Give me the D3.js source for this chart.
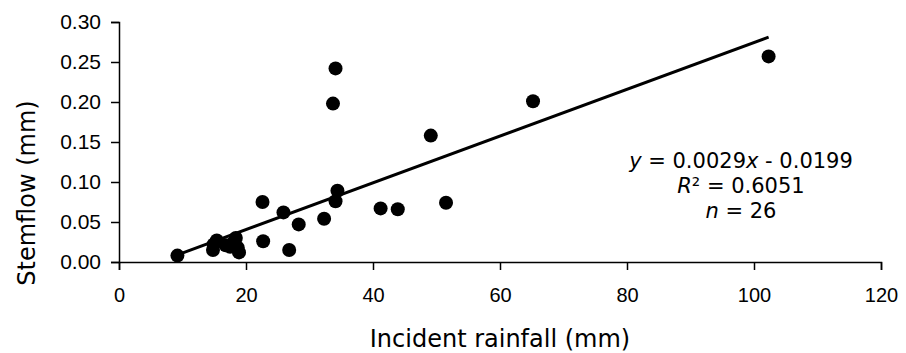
<!DOCTYPE html>
<html>
<head>
<meta charset="utf-8">
<script src="https://cdn.jsdelivr.net/npm/d3@7"></script>
<style>
  body { margin: 0; background: #fff; }
  svg { display: block; font-family: "DejaVu Sans", Verdana, sans-serif; }
  .axis path, .axis line { stroke: #000; stroke-width: 1.5; }
  .axis text { fill: #000; }
</style>
</head>
<body>
<svg id="MyGraph" width="906" height="353"></svg>
<script>
// incident rainfall (mm) and stemflow (mm), one pair per event
var rainfall = [9.2, 14.8, 14.9, 15.4, 16.8, 17.5, 18.0, 18.4, 18.7, 18.9,
                22.6, 22.7, 25.9, 26.8, 28.3, 32.3, 33.7, 34.1, 34.1, 34.4,
                41.2, 43.9, 49.1, 51.5, 65.2, 102.3];
var stemflow = [0.008, 0.015, 0.022, 0.027, 0.021, 0.019, 0.024, 0.030, 0.018, 0.012,
                0.075, 0.026, 0.062, 0.015, 0.047, 0.054, 0.198, 0.242, 0.076, 0.089,
                0.067, 0.066, 0.158, 0.074, 0.201, 0.257];
var xTicks = [0, 20, 40, 60, 80, 100, 120];
var yTicks = [0, 0.05, 0.10, 0.15, 0.20, 0.25, 0.30];

var svg = d3.select("#MyGraph");
var margin = {top: 22, right: 25, bottom: 91, left: 119},
    width = 906 - margin.left - margin.right,
    height = 353 - margin.top - margin.bottom,
    g = svg.append("g").attr("transform", "translate(" + margin.left + "," + margin.top + ")");

var x = d3.scaleLinear().domain([0, 120]).range([0, width]);
var y = d3.scaleLinear().domain([0, 0.30]).range([height, 0]);

var points = rainfall.map(function(d, i) { return {x: d, y: stemflow[i]}; });

// least squares fit
var mx = d3.mean(rainfall), my = d3.mean(stemflow);
var sxy = d3.sum(points, function(p) { return (p.x - mx) * (p.y - my); });
var sxx = d3.sum(points, function(p) { return (p.x - mx) * (p.x - mx); });
var slope = sxy / sxx, icpt = my - slope * mx;
var xr = d3.extent(rainfall);

g.append("g")
    .attr("class", "axis")
    .attr("transform", "translate(0," + height + ")")
    .call(d3.axisBottom(x).tickValues(xTicks).tickSizeOuter(0).tickSize(8).tickPadding(18).tickFormat(d3.format("d")))
    .call(function(a) { a.selectAll("text").style("font-size", "20px"); });

g.append("g")
    .attr("class", "axis")
    .call(d3.axisLeft(y).tickValues(yTicks).tickSizeOuter(0).tickSize(8).tickPadding(10).tickFormat(d3.format(".2f")))
    .call(function(a) { a.selectAll("text").style("font-size", "21px"); });

g.append("line")
    .attr("x1", x(xr[0])).attr("y1", y(slope * xr[0] + icpt))
    .attr("x2", x(xr[1])).attr("y2", y(slope * xr[1] + icpt))
    .attr("stroke", "#000")
    .attr("stroke-width", 3);

g.append("g")
    .selectAll("circle")
    .data(points)
    .enter().append("circle")
    .attr("cx", function(d) { return x(d.x); })
    .attr("cy", function(d) { return y(d.y); })
    .attr("r", 7)
    .attr("fill", "#000");

var eq = g.append("text")
    .attr("text-anchor", "middle")
    .style("font-size", "21px");
eq.append("tspan").attr("x", 622).attr("y", 146).style("font-style", "italic").text("y");
eq.append("tspan").text(" = 0.0029");
eq.append("tspan").style("font-style", "italic").text("x");
eq.append("tspan").text(" - 0.0199");

var eq2 = g.append("text").attr("text-anchor", "middle").style("font-size", "21px")
    .attr("x", 622).attr("y", 171);
eq2.append("tspan").style("font-style", "italic").text("R");
eq2.append("tspan").text("² = 0.6051");

var eq3 = g.append("text").attr("text-anchor", "middle").style("font-size", "21px")
    .attr("x", 622).attr("y", 196);
eq3.append("tspan").style("font-style", "italic").text("n");
eq3.append("tspan").text(" = 26");

svg.append("text")
    .attr("x", margin.left + width / 2)
    .attr("y", 347)
    .attr("text-anchor", "middle")
    .style("font-size", "24px")
    .text("Incident rainfall (mm)");

svg.append("text")
    .attr("transform", "translate(35,193) rotate(-90)")
    .attr("text-anchor", "middle")
    .style("font-size", "24px")
    .text("Stemflow (mm)");
</script>
</body>
</html>
